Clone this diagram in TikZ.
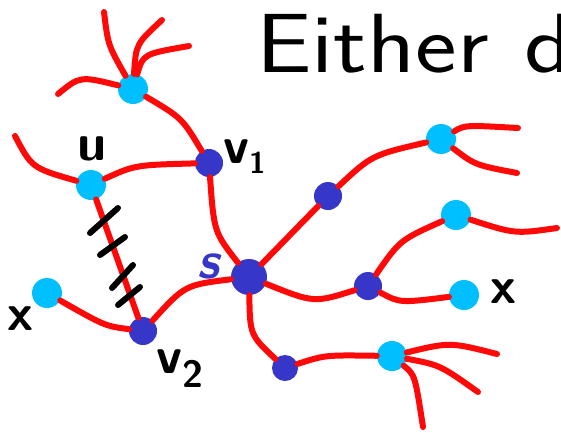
\documentclass[tikz,border=0pt]{standalone}
\usepackage{xcolor}
\usepackage{tikz}
\definecolor{figred}{HTML}{FF0808}
\definecolor{figcyan}{HTML}{00BFFF}
\definecolor{figindigo}{HTML}{3636C8}

\begin{document}
\begin{tikzpicture}[x=1pt,y=-1pt,
    leaf/.style={circle,fill=figcyan,inner sep=0pt,minimum size=30pt},
    inner/.style={circle,fill=figindigo,inner sep=0pt,minimum size=28pt},
    branch/.style={figred,line width=6pt,line cap=round},
    hatch/.style={black,line width=6pt,line cap=round},
    hand/.style={font=\sffamily\bfseries\fontsize{52}{52}\selectfont,inner sep=0pt}]
  \useasboundingbox (0,0) rectangle (561,432);
  % title, running off the right edge
  \node[font=\sffamily\fontsize{84}{84}\selectfont,anchor=base west,inner sep=0pt] (title) at (256,72)
    {\scalebox{1.18}[1]{Either\hspace{4pt} de}};
  % vertices
  \node[leaf] (top) at (133,89) {};
  \node[leaf] (u) at (91,185) {};
  \node[inner] (v1) at (209,163) {};
  \node[inner,minimum size=36pt] (s) at (249,277) {};
  \node[inner] (v2) at (143,331) {};
  \node[leaf] (xl) at (47,293) {};
  \node[inner] (a) at (328,196) {};
  \node[leaf] (b) at (441,139) {};
  \node[inner] (c) at (368,286) {};
  \node[leaf] (d) at (456,215) {};
  \node[leaf] (xr) at (464,295) {};
  \node[inner,minimum size=26pt] (e) at (285,368) {};
  \node[leaf] (f) at (392,356) {};
  % loose ends
  \coordinate (t1) at (58,94);
  \coordinate (t2) at (104,12);
  \coordinate (t3) at (162,20);
  \coordinate (t4) at (189,46);
  \coordinate (u1) at (15,136);
  \coordinate (b1) at (518,128);
  \coordinate (b2) at (517,173);
  \coordinate (d1) at (557,228);
  \coordinate (f1) at (497,354);
  \coordinate (f2) at (478,392);
  \coordinate (f3) at (423,427);
  % edges
  \draw[branch] (top) .. controls (182,118) .. (v1);
  \draw[branch] (t1) .. controls (80,76) .. (top);
  \draw[branch] (t2) .. controls (108,45) .. (top);
  \draw[branch] (t3) .. controls (136,44) .. (top);
  \draw[branch] (t4) .. controls (143,54) .. (top);
  \draw[branch] (u1) .. controls (32,168) .. (u);
  \draw[branch] (u) .. controls (135,165) .. (v1);
  \draw[branch] (u) -- (v2);
  \draw[branch] (v1) .. controls (214,232) .. (s);
  \draw[branch] (s) .. controls (185,285) .. (v2);
  \draw[branch] (v2) .. controls (105,326) .. (xl);
  \draw[branch] (s) -- (a);
  \draw[branch] (a) .. controls (372,155) .. (b);
  \draw[branch] (b) .. controls (465,125) .. (b1);
  \draw[branch] (b) .. controls (475,165) .. (b2);
  \draw[branch] (s) .. controls (314,303) .. (c);
  \draw[branch] (c) .. controls (400,240) .. (d);
  \draw[branch] (d) .. controls (515,234) .. (d1);
  \draw[branch] (c) .. controls (400,303) .. (xr);
  \draw[branch] (s) .. controls (250,335) .. (e);
  \draw[branch] (e) .. controls (325,355) .. (f);
  \draw[branch] (f) .. controls (450,342) .. (f1);
  \draw[branch] (f) .. controls (440,365) .. (f2);
  \draw[branch] (f) .. controls (415,375) .. (f3);
  % cut marks on u--v2
  \foreach \xa/\ya/\xb/\yb in {90/233/118/208, 100/255/125/237, 112/288/133/265, 118/305/140/287}
    \draw[hatch] (\xa,\ya) -- (\xb,\yb);
  % labels
  \node[hand,anchor=base] (lu) at (92,160) {u};
  \node[hand,anchor=base west] (lv1) at (223,163) {v\raisebox{-10pt}{\fontsize{30}{30}\selectfont 1}};
  \node[hand,anchor=base west] (lv2) at (156,373) {v\raisebox{-14pt}{\fontsize{38}{38}\selectfont 2}};
  \node[hand,anchor=base,text=figindigo,font=\sffamily\bfseries\itshape\fontsize{52}{52}\selectfont] (ls) at (208,278) {s};
  \node[hand,anchor=base] (lxl) at (21,330) {x};
  \node[hand,anchor=base] (lxr) at (503,303) {x};
\end{tikzpicture}
\end{document}
